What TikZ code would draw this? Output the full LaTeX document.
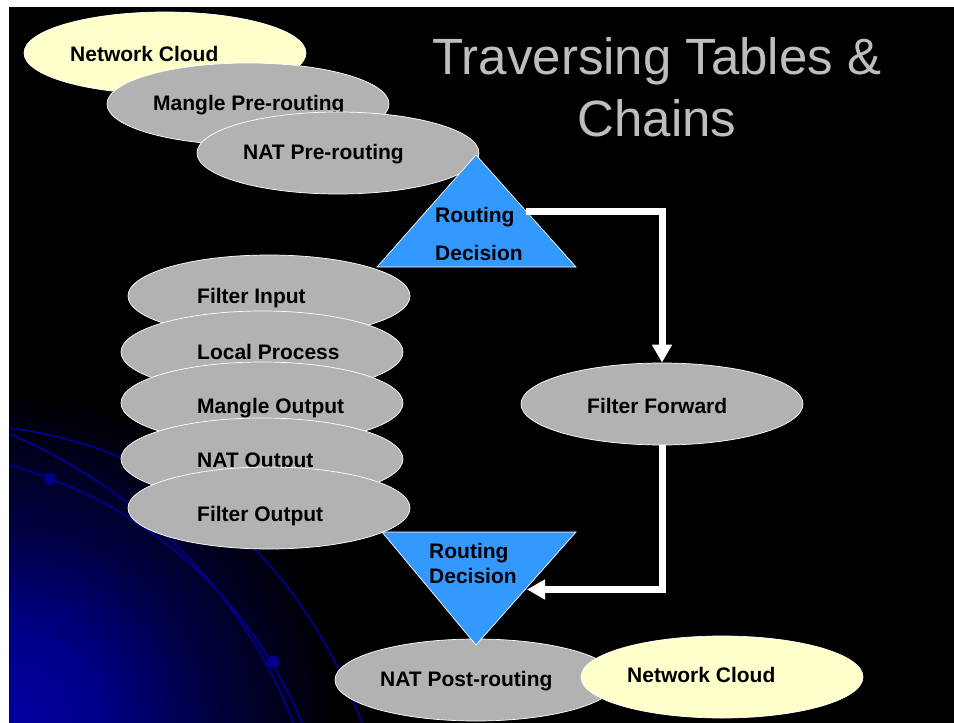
\documentclass[tikz,border=0pt]{standalone}
\usepackage{fontspec}
\setmainfont{Liberation Sans}
\usetikzlibrary{arrows.meta,shapes.geometric}
\definecolor{ellgray}{RGB}{178,178,178}
\definecolor{cloudyellow}{RGB}{255,255,204}
\definecolor{rdblue}{RGB}{51,153,255}
\definecolor{arcblue}{RGB}{0,0,140}
\definecolor{cornerblue}{RGB}{0,0,160}
\definecolor{titlegray}{RGB}{190,190,190}
\pgfdeclareradialshading{cornerglow}{\pgfpointorigin}{%
  color(0bp)=(cornerblue); color(7bp)=(cornerblue!85!black);
  color(15bp)=(cornerblue!40!black); color(25bp)=(black); color(50bp)=(black)}
\begin{document}
\begin{tikzpicture}[x=1pt,y=-1pt,
  chain/.style={ellipse, draw=white, line width=0.7pt, fill=ellgray, inner sep=0pt,
    minimum width=282pt, minimum height=82pt},
  cloudell/.style={chain, fill=cloudyellow},
  lbl/.style={anchor=base west, inner sep=0pt, text=black,
    font=\bfseries\fontsize{21}{25}\selectfont},
  ttl/.style={anchor=base, inner sep=0pt, text=titlegray,
    font=\fontsize{51}{60}\selectfont},
  decision/.style={fill=rdblue, draw=white, line width=0.7pt, line join=miter},
  flow/.style={draw=white, line width=7pt, line join=miter,
    -{Triangle[width=19pt,length=18pt]}},
  arc/.style={draw=arcblue, line width=1.8pt},
  bead/.style={fill=arcblue}
]
% page and background
\fill[white] (0,0) rectangle (954,723);
\fill[black] (9,7) rectangle (954,723);
\begin{scope}
  \clip (9,7) rectangle (954,723);
  \shade[shading=cornerglow] (9,723) circle (330);
  % decorative arcs
  \draw[arc] (9,428) .. controls (180,450) and (300,560) .. (362,723);
  \draw[arc] (9,434) .. controls (120,480) and (240,580) .. (293,723);
  \draw[arc] (9,465) .. controls (150,505) and (250,600) .. (302,723);
  \fill[bead] (50,479) circle (6);
  \fill[bead] (273,662) circle (6.5);
\end{scope}

% title
\node[ttl] (t1) at (657,74) {Traversing Tables \&};
\node[ttl] (t2) at (657,136) {Chains};

% top entry chains
\node[cloudell] (nc1) at (165,53) {};
\node[lbl] (nc1t) at (70,61) {Network Cloud};
\node[chain] (mpr) at (248,104) {};
\node[lbl] (mprt) at (153,110) {Mangle Pre-routing};
\node[chain] (npr) at (338,153) {};
\node[lbl] (nprt) at (243,159) {NAT Pre-routing};

% local stack
\node[chain] (fi) at (269,296) {};
\node[lbl] (fit) at (197,303) {Filter Input};
\node[chain] (lp) at (262,352) {};
\node[lbl] (lpt) at (197,359) {Local Process};
\node[chain] (mo) at (262,403) {};
\node[lbl] (mot) at (197,413) {Mangle Output};
\node[chain] (no) at (262,459) {};
\node[lbl] (not) at (197,467) {NAT Output};
\node[chain] (fo) at (269,508) {};
\node[lbl] (fot) at (197,521) {Filter Output};

% forward
\node[chain] (ff) at (662,404) {};
\node[lbl] (fft) at (587,413) {Filter Forward};

% bottom
\node[chain] (npo) at (476,680) {};
\node[lbl] (npot) at (380,686) {NAT Post-routing};
\node[cloudell] (nc2) at (722,677) {};
\node[lbl] (nc2t) at (627,682) {Network Cloud};

% routing decision (top)
\coordinate (rd1a) at (476,155);
\coordinate (rd1l) at (377,267);
\coordinate (rd1r) at (576,267);
\path[decision] (rd1a) -- (rd1r) -- (rd1l) -- cycle;
\node[lbl] (rd1t1) at (435,222) {Routing};
\node[lbl] (rd1t2) at (435,260) {Decision};
\coordinate (rd1e) at (526,211.5);

% routing decision (bottom)
\coordinate (rd2l) at (382,532);
\coordinate (rd2r) at (576,532);
\coordinate (rd2a) at (476,645);
\path[decision] (rd2l) -- (rd2r) -- (rd2a) -- cycle;
\node[lbl] (rd2t1) at (429,558) {Routing};
\node[lbl] (rd2t2) at (429,583) {Decision};
\coordinate (rd2e) at (527,589.5);

% flows
\draw[flow] (rd1e) -| (ff.north);
\draw[flow] (ff.south) |- (rd2e);
\end{tikzpicture}
\end{document}
